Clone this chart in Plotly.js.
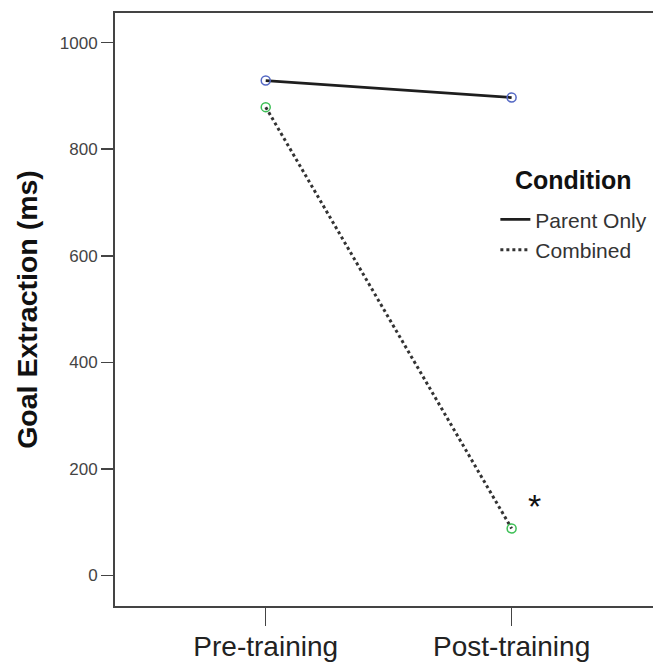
<!DOCTYPE html>
<html>
<head>
<meta charset="utf-8">
<script src="https://cdn.plot.ly/plotly-3.0.1.min.js"></script>
<style>
html,body{margin:0;padding:0;background:#fff;overflow:hidden;}
#chart{width:653px;height:663px;}
</style>
</head>
<body>
<div id="chart"></div>
<script>
var categories = ["Pre-training", "Post-training"];
var parentOnly = [929, 897];
var combined = [879, 88];
var seriesNames = ["Parent Only", "Combined"];
var yTicks = [0, 200, 400, 600, 800, 1000];
var legendTitle = "Condition";
var yTitle = "Goal Extraction (ms)";
var sigMark = "*";

var traces = [
  {x: categories, y: parentOnly, name: seriesNames[0], type: "scatter", mode: "lines",
   line: {color: "#1e1e1e", width: 2.8}, hoverinfo: "x+y"},
  {x: categories, y: combined, name: seriesNames[1], type: "scatter", mode: "lines",
   line: {color: "#333333", width: 3, dash: "dot"}, hoverinfo: "x+y"},
  {x: categories, y: parentOnly, type: "scatter", mode: "markers", showlegend: false,
   marker: {symbol: "circle-open", size: 9, color: "#5468c4", line: {width: 1.5}}},
  {x: categories, y: combined, type: "scatter", mode: "markers", showlegend: false,
   marker: {symbol: "circle-open", size: 9, color: "#3cbf55", line: {width: 1.5}}}
];

var layout = {
  width: 653, height: 663,
  margin: {l: 115, r: 0, t: 13, b: 57, pad: 0},
  paper_bgcolor: "#fff", plot_bgcolor: "#fff",
  font: {family: "Liberation Sans, Arial, sans-serif", color: "#333"},
  showlegend: true,
  legend: {
    x: 0.707, y: 0.686, xanchor: "left", yanchor: "top",
    bgcolor: "rgba(0,0,0,0)", borderwidth: 0,
    font: {size: 21, color: "#333"},
    tracegroupgap: 0, itemwidth: 30
  },
  xaxis: {
    type: "category", categoryorder: "array", categoryarray: categories,
    range: [-0.613, 1.575],
    showgrid: false, zeroline: false,
    showline: true, linecolor: "#444", linewidth: 2, mirror: true,
    ticks: "outside", ticklen: 18, tickwidth: 1.5, tickcolor: "#444",
    tickfont: {size: 28, color: "#222"}, ticklabelstandoff: -4
  },
  yaxis: {
    range: [-57.6, 1055.8],
    tickvals: yTicks, ticktext: yTicks.map(String),
    showgrid: false, zeroline: false,
    showline: true, linecolor: "#444", linewidth: 2,
    ticks: "outside", ticklen: 12, tickwidth: 1.5, tickcolor: "#444",
    tickfont: {size: 17, color: "#444"},
    title: {text: "<b>" + yTitle + "</b>", font: {size: 28.5, color: "#111"}, standoff: 14}
  },
  annotations: [
    {x: 0.853, y: 0.718, xref: "paper", yref: "paper", text: "<b>" + legendTitle + "</b>",
     showarrow: false, xanchor: "center", yanchor: "middle", font: {size: 25, color: "#111"}},
    {x: categories[1], y: combined[1], xref: "x", yref: "y", text: sigMark,
     showarrow: false, xshift: 23, yshift: 22, font: {size: 34, color: "#111"}}
  ]
};

Plotly.newPlot("chart", traces, layout, {displayModeBar: false, staticPlot: true});
</script>
</body>
</html>
